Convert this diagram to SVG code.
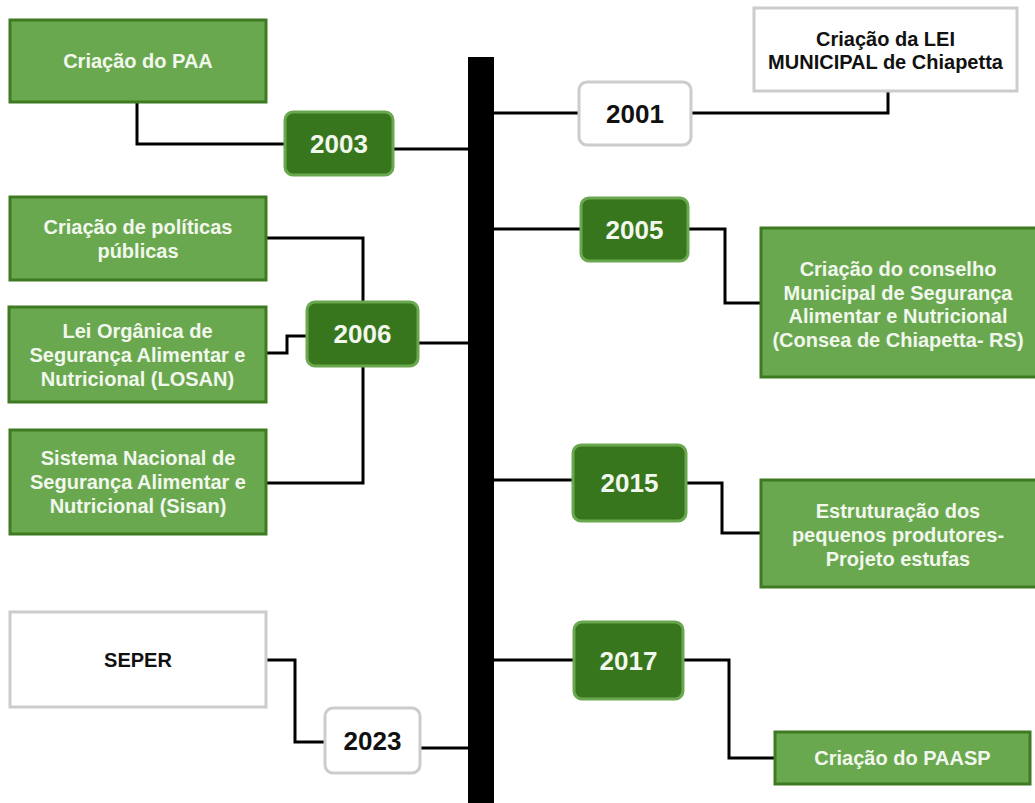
<svg xmlns="http://www.w3.org/2000/svg" width="1035" height="803" viewBox="0 0 1035 803">
<style>
.ev{fill:#6aa84f;stroke:#3e7a22;stroke-width:3}
.wb{fill:#ffffff;stroke:#cccccc;stroke-width:3}
.yr{fill:#38761d;stroke:#6aa84f;stroke-width:3}
.yw{fill:#ffffff;stroke:#cccccc;stroke-width:3}
text{font-family:"Liberation Sans",Arial,sans-serif;font-weight:bold;text-anchor:middle}
.t{font-size:20px;fill:#f2f7ee}
.tb{font-size:20px;fill:#111111}
.y{font-size:26px;fill:#f2f7ee}
.yb{font-size:26px;fill:#111111}
.c{fill:none;stroke:#000000;stroke-width:3}
</style>
<rect width="1035" height="803" fill="#ffffff"/>
<g id="connectors">
<path class="c" d="M393 149 H468"/>
<path class="c" d="M137 102 V144 H285"/>
<path class="c" d="M494 113 H579"/>
<path class="c" d="M691 113 H888 V91"/>
<path class="c" d="M494 229 H581"/>
<path class="c" d="M688 229 H725 V303 H761"/>
<path class="c" d="M266 238 H363 V302"/>
<path class="c" d="M266 353 H287 V336 H307"/>
<path class="c" d="M363 366 V483 H266"/>
<path class="c" d="M418 343 H468"/>
<path class="c" d="M494 480 H573"/>
<path class="c" d="M686 483 H722 V533 H761"/>
<path class="c" d="M266 660 H295 V742 H325"/>
<path class="c" d="M420 748 H468"/>
<path class="c" d="M494 660 H574"/>
<path class="c" d="M683 660 H729 V758 H775"/>
</g>
<g id="spine"><rect x="468" y="57" width="26" height="746" fill="#000000"/></g>
<g id="paa"><rect class="ev" x="10" y="20" width="256" height="82"/><text class="t" x="138" y="68">Criação do PAA</text></g>
<g id="y2003"><rect class="yr" x="285" y="112" width="108" height="63" rx="8"/><text class="y" x="339" y="153">2003</text></g>
<g id="leimun"><rect class="wb" x="754" y="8" width="263" height="83"/><text class="tb" x="885.5" y="46">Criação da LEI</text><text class="tb" x="885.5" y="69">MUNICIPAL de Chiapetta</text></g>
<g id="y2001"><rect class="yw" x="579" y="82" width="112" height="63" rx="8"/><text class="yb" x="635" y="123">2001</text></g>
<g id="politicas"><rect class="ev" x="10" y="197" width="256" height="83"/><text class="t" x="138" y="233.5">Criação de políticas</text><text class="t" x="138" y="257.5">públicas</text></g>
<g id="losan"><rect class="ev" x="9" y="307" width="257" height="95"/><text class="t" x="137.5" y="337.5">Lei Orgânica de</text><text class="t" x="137.5" y="361.5">Segurança Alimentar e</text><text class="t" x="137.5" y="385.5">Nutricional (LOSAN)</text></g>
<g id="sisan"><rect class="ev" x="10" y="430" width="256" height="104"/><text class="t" x="138" y="465">Sistema Nacional de</text><text class="t" x="138" y="489">Segurança Alimentar e</text><text class="t" x="138" y="513">Nutricional (Sisan)</text></g>
<g id="y2006"><rect class="yr" x="307" y="302" width="111" height="64" rx="8"/><text class="y" x="362.5" y="343">2006</text></g>
<g id="y2005"><rect class="yr" x="581" y="198" width="107" height="63" rx="8"/><text class="y" x="634.5" y="239">2005</text></g>
<g id="consea"><rect class="ev" x="761" y="228" width="280" height="149"/><text class="t" x="898" y="276">Criação do conselho</text><text class="t" x="898" y="299.5">Municipal de Segurança</text><text class="t" x="898" y="323">Alimentar e Nutricional</text><text class="t" x="898" y="346.5">(Consea de Chiapetta- RS)</text></g>
<g id="y2015"><rect class="yr" x="573" y="445" width="113" height="76" rx="8"/><text class="y" x="629.5" y="492">2015</text></g>
<g id="estufas"><rect class="ev" x="761" y="480" width="280" height="107"/><text class="t" x="898" y="518">Estruturação dos</text><text class="t" x="898" y="542">pequenos produtores-</text><text class="t" x="898" y="566">Projeto estufas</text></g>
<g id="seper"><rect class="wb" x="10" y="612" width="256" height="95"/><text class="tb" x="138" y="667">SEPER</text></g>
<g id="y2023"><rect class="yw" x="325" y="708" width="95" height="65" rx="8"/><text class="yb" x="372.5" y="750">2023</text></g>
<g id="y2017"><rect class="yr" x="574" y="622" width="109" height="77" rx="8"/><text class="y" x="628.5" y="670">2017</text></g>
<g id="paasp"><rect class="ev" x="775" y="732" width="255" height="52"/><text class="t" x="902.5" y="765">Criação do PAASP</text></g>
</svg>
